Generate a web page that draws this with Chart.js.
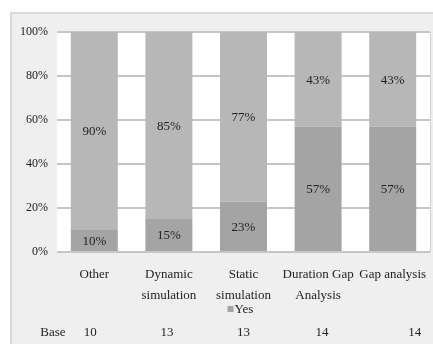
<!DOCTYPE html>
<html>
<head>
<meta charset="utf-8">
<script src="https://cdn.jsdelivr.net/npm/chart.js@4"></script>
<style>
  html, body { margin: 0; padding: 0; background: #ffffff; }
  #wrap { width: 433px; height: 344px; position: relative; }
</style>
</head>
<body>
<div id="wrap"><canvas id="c" width="433" height="344"></canvas></div>
<script>
// Methods used, share answering "Yes" vs the rest, with respondent base per method
const categories = [["Other"], ["Dynamic", "simulation"], ["Static", "simulation"], ["Duration Gap", "Analysis"], ["Gap analysis"]];
const yesValues = [10, 15, 23, 57, 57];
const noValues = [90, 85, 77, 43, 43];
const baseCounts = [10, 13, 13, 14, 14];
const yTicks = [0, 20, 40, 60, 80, 100];

const SERIF = "'Liberation Serif', 'Times New Roman', serif";
const TEXT = '#222222';
const YES_COLOR = '#a4a4a4';
const NO_COLOR = '#b7b7b7';

// Frame, grey panel and white plotting area behind the bars
const backdrop = {
  id: 'backdrop',
  beforeDraw(chart) {
    const { ctx, chartArea: a, width, height } = chart;
    ctx.save();
    ctx.fillStyle = '#ffffff';
    ctx.fillRect(0, 0, width, height);
    ctx.fillStyle = '#efefef';
    ctx.fillRect(11, 13, width - 11, height - 13);
    ctx.strokeStyle = '#cfcfcf';
    ctx.lineWidth = 1.5;
    ctx.beginPath();
    ctx.moveTo(11, height);
    ctx.lineTo(11, 13);
    ctx.lineTo(width, 13);
    ctx.stroke();
    ctx.fillStyle = '#ffffff';
    ctx.fillRect(a.left, a.top, a.right - a.left, a.bottom - a.top);
    ctx.strokeStyle = '#d2d2d2';
    ctx.lineWidth = 1;
    ctx.beginPath();
    ctx.moveTo(a.right + 0.5, a.top);
    ctx.lineTo(a.right + 0.5, a.bottom);
    ctx.stroke();
    ctx.restore();
  }
};

// Value labels in the middle of each segment, legend key and base row
const annotations = {
  id: 'annotations',
  afterDatasetsDraw(chart) {
    const { ctx, chartArea: a } = chart;
    const xScale = chart.scales.x;
    ctx.save();
    ctx.font = '13px ' + SERIF;
    ctx.fillStyle = TEXT;
    ctx.textAlign = 'center';
    ctx.textBaseline = 'middle';
    chart.data.datasets.forEach((ds, di) => {
      const meta = chart.getDatasetMeta(di);
      meta.data.forEach((bar, i) => {
        const p = bar.getProps(['x', 'y', 'base'], true);
        ctx.fillText(ds.data[i] + '%', p.x, (p.y + p.base) / 2 + 1);
      });
    });

    // legend key for the "Yes" series
    const lx = (a.left + a.right) / 2 - 16;
    const ly = 309;
    ctx.fillStyle = YES_COLOR;
    ctx.fillRect(lx, ly - 3, 6, 6);
    ctx.fillStyle = TEXT;
    ctx.textAlign = 'left';
    ctx.font = '13px ' + SERIF;
    ctx.fillText('Yes', lx + 7, ly + 1);

    // base row
    const by = 333;
    const shift = [-4, -2, 0, 4, 22];
    ctx.textAlign = 'center';
    ctx.fillText('Base', 53, by);
    baseCounts.forEach((n, i) => {
      ctx.fillText(String(n), xScale.getPixelForValue(i) + shift[i], by);
    });
    ctx.restore();
  }
};

new Chart(document.getElementById('c'), {
  type: 'bar',
  data: {
    labels: categories,
    datasets: [
      { label: 'Yes', data: yesValues, backgroundColor: YES_COLOR, borderWidth: 0 },
      { label: 'No', data: noValues, backgroundColor: NO_COLOR, borderWidth: 0 }
    ]
  },
  options: {
    responsive: false,
    animation: false,
    devicePixelRatio: 1,
    layout: { padding: { top: 32, right: 3, left: 0, bottom: 0 } },
    plugins: { legend: { display: false }, tooltip: { enabled: false } },
    datasets: { bar: { categoryPercentage: 1, barPercentage: 0.63 } },
    scales: {
      x: {
        stacked: true,
        grid: { display: false, drawTicks: false },
        border: { display: false },
        ticks: {
          padding: 13,
          color: TEXT,
          maxRotation: 0,
          autoSkip: false,
          font: { family: SERIF, size: 13, lineHeight: 1.55 }
        },
        afterFit(scale) {
          scale.height = 92;
          scale.paddingLeft = 0;
          scale.paddingRight = 0;
        }
      },
      y: {
        stacked: true,
        min: 0,
        max: 100,
        afterBuildTicks(scale) { scale.ticks = yTicks.map(v => ({ value: v })); },
        grid: { color: '#c6c6c6', lineWidth: 2, drawTicks: false },
        border: { display: false },
        ticks: {
          padding: 9,
          color: TEXT,
          font: { family: SERIF, size: 12 },
          callback: v => v + '%'
        },
        afterFit(scale) {
          scale.width = 57;
          scale.paddingTop = 0;
          scale.paddingBottom = 0;
        }
      }
    }
  },
  plugins: [backdrop, annotations]
});
</script>
</body>
</html>
